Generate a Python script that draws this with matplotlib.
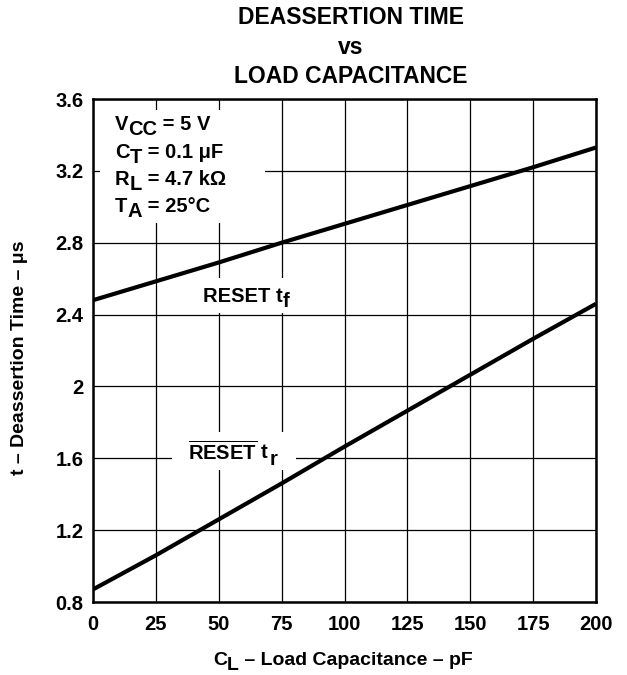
import matplotlib
matplotlib.use("Agg")
import matplotlib.pyplot as plt
from matplotlib.patches import Rectangle

plt.rcParams['font.family'] = ['Liberation Sans', 'DejaVu Sans']
plt.rcParams['font.weight'] = 'bold'
plt.rcParams['mathtext.fontset'] = 'custom'
plt.rcParams['mathtext.rm'] = 'Liberation Sans:bold'
plt.rcParams['mathtext.it'] = 'Liberation Sans:bold'
plt.rcParams['mathtext.bf'] = 'Liberation Sans:bold'

# data
cl = [0, 25, 50, 75, 100, 125, 150, 175, 200]
t_fall = [2.48, 2.585, 2.69, 2.80, 2.905, 3.01, 3.115, 3.22, 3.33]
t_rise = [0.87, 1.06, 1.26, 1.46, 1.665, 1.865, 2.065, 2.265, 2.46]

xticks = [0, 25, 50, 75, 100, 125, 150, 175, 200]
yticks = [0.8, 1.2, 1.6, 2.0, 2.4, 2.8, 3.2, 3.6]
ytick_labels = ['0.8', '1.2', '1.6', '2', '2.4', '2.8', '3.2', '3.6']

FS = 14
SUB = -3.5  # subscript drop, points


def chain(x, y, parts, transform, fs=FS, z=5):
    """text pieces side by side; parts = [(string, is_sub), ...]"""
    prev = fig.text(x, y, parts[0][0], transform=transform, fontsize=fs, fontweight='bold',
                    ha='left', va='baseline', zorder=z)
    prev_off = 0
    for s, sub in parts[1:]:
        off = SUB if sub else 0
        prev = ax.annotate(s, xy=(1, 0), xycoords=prev, xytext=(0, off - prev_off),
                           textcoords='offset points', fontsize=fs, fontweight='bold',
                           ha='left', va='bottom', zorder=z + 1, annotation_clip=False)
        prev_off = off
    return prev


fig = plt.figure(figsize=(6.27, 6.75), dpi=100)
ax = fig.add_axes([93 / 627, 1 - 602 / 675, 503 / 627, 503 / 675])

ax.plot(cl, t_fall, color='black', lw=3, solid_capstyle='butt', zorder=3)
ax.plot(cl, t_rise, color='black', lw=3, solid_capstyle='butt', zorder=3)

ax.set_xlim(0, 200)
ax.set_ylim(0.8, 3.6)
ax.set_xticks(xticks)
ax.set_yticks(yticks)
ax.set_yticklabels(ytick_labels)
ax.tick_params(length=0, labelsize=14.5)
ax.tick_params(axis='x', pad=9)
ax.tick_params(axis='y', pad=7)
for lab in ax.get_xticklabels() + ax.get_yticklabels():
    lab.set_fontweight('bold')
ax.grid(True, color='black', lw=0.9)
ax.set_axisbelow(True)
for s in ax.spines.values():
    s.set_linewidth(1.8)

# title
fig.text(351 / 627, 1 - 47 / 675, 'DEASSERTION TIME\nvs\nLOAD CAPACITANCE',
         ha='center', va='center', fontsize=16.5, fontweight='bold', linespacing=1.38)

# axis labels
fig.text(20 / 627, 1 - 358 / 675, 't – Deassertion Time – μs', rotation=90,
         ha='center', va='center', fontsize=FS, fontweight='bold')
chain(213 / 627, 1 - 665 / 675, [('C', False), ('L', True), (' – Load Capacitance – pF', False)],
      fig.transFigure)

# conditions box
ax.add_patch(Rectangle((0.014, 0.753), 0.328, 0.225, transform=ax.transAxes,
                       facecolor='white', edgecolor='none', zorder=2))
conds = [
    [('V', False), ('CC', True), (' = 5 V', False)],
    [('C', False), ('T', True), (' = 0.1 μF', False)],
    [('R', False), ('L', True), (' = 4.7 kΩ', False)],
    [('T', False), ('A', True), (' = 25°C', False)],
]
for parts, yb in zip(conds, [0.938, 0.883, 0.829, 0.775]):
    chain(0.0437, yb, parts, ax.transAxes, fs=14.5)

# curve labels, white patch behind them
ax.add_patch(Rectangle((0.205, 0.574), 0.21, 0.07, transform=ax.transAxes,
                       facecolor='white', edgecolor='none', zorder=2))
ax.add_patch(Rectangle((0.158, 0.262), 0.245, 0.075, transform=ax.transAxes,
                       facecolor='white', edgecolor='none', zorder=2))
chain(0.219, 0.596, [('RESET t', False), ('f', True)], ax.transAxes, fs=14.5)
chain(0.189, 0.282, [(r'$\overline{\mathrm{RESET}}$ t', False), ('r', True)], ax.transAxes, fs=14.5)

fig.savefig('out.png', dpi=100)
